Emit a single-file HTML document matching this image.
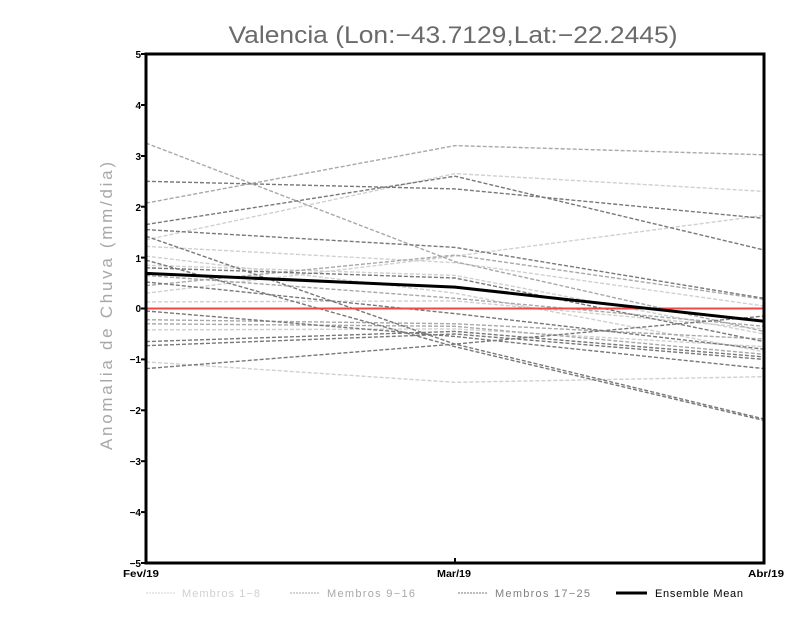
<!DOCTYPE html>
<html><head><meta charset="utf-8"><style>
html,body{margin:0;padding:0;background:#fff;}
svg{display:block;}
text{font-family:"Liberation Sans",sans-serif;}
</style></head><body>
<svg width="800" height="618" viewBox="0 0 800 618" xmlns="http://www.w3.org/2000/svg">
<rect width="800" height="618" fill="#fff"/>
<text x="453" y="43" font-size="24" fill="#6a6a6a" text-anchor="middle" textLength="449" lengthAdjust="spacingAndGlyphs">Valencia (Lon:−43.7129,Lat:−22.2445)</text>
<text transform="translate(112,306) rotate(-90)" font-size="17" fill="#a8a8a8" text-anchor="middle" textLength="288" lengthAdjust="spacing">Anomalia de Chuva (mm/dia)</text>

<g fill="none" stroke-width="1.4" stroke-dasharray="4,2">
<g stroke="#d0d0d0">
<polyline points="146,239.8 455,173.6 764,191.4"/>
<polyline points="146,293.2 455,256.1 764,215.4"/>
<polyline points="146,361.9 455,382.3 764,376.7"/>
<polyline points="146,329.9 455,328.9 764,346.7"/>
<polyline points="146,301.9 455,300.9 764,328.9"/>
<polyline points="146,265.2 455,275.4 764,334.0"/>
<polyline points="146,256.1 455,293.2 764,351.8"/>
<polyline points="146,246.4 455,262.7 764,306.0"/>
</g>
<g stroke="#a8a8a8">
<polyline points="146,203.1 455,145.6 764,154.8"/>
<polyline points="146,143.1 455,261.7 764,331.4"/>
<polyline points="146,319.7 455,323.8 764,339.0"/>
<polyline points="146,275.4 455,298.3 764,326.3"/>
<polyline points="146,285.6 455,255.1 764,299.3"/>
<polyline points="146,323.8 455,326.3 764,354.3"/>
</g>
<g stroke="#787878">
<polyline points="146,224.5 455,176.2 764,250.0"/>
<polyline points="146,181.3 455,188.9 764,218.4"/>
<polyline points="146,229.6 455,247.4 764,298.3"/>
<polyline points="146,236.2 455,344.1 764,419.0"/>
<polyline points="146,260.1 455,346.7 764,420.5"/>
<polyline points="146,368.6 455,344.1 764,316.1"/>
<polyline points="146,341.6 455,331.4 764,356.9"/>
<polyline points="146,345.7 455,334.0 764,359.4"/>
<polyline points="146,311.0 455,336.5 764,368.6"/>
<polyline points="146,282.0 455,313.6 764,349.2"/>
<polyline points="146,267.8 455,278.0 764,341.6"/>
</g>
</g>
<line x1="146" y1="308.5" x2="764" y2="308.5" stroke="#f04848" stroke-width="2"/>
<polyline points="146,273.4 455,287.1 764,321.2" fill="none" stroke="#000" stroke-width="3"/>

<rect x="146" y="54" width="618" height="509" fill="none" stroke="#000" stroke-width="3"/>
<g stroke="#000" stroke-width="2">
<line x1="141" y1="54" x2="146" y2="54"/>
<line x1="141" y1="105" x2="146" y2="105"/>
<line x1="141" y1="156" x2="146" y2="156"/>
<line x1="141" y1="206.7" x2="146" y2="206.7"/>
<line x1="141" y1="257.6" x2="146" y2="257.6"/>
<line x1="141" y1="308.5" x2="146" y2="308.5"/>
<line x1="141" y1="359.4" x2="146" y2="359.4"/>
<line x1="141" y1="410.3" x2="146" y2="410.3"/>
<line x1="141" y1="461.2" x2="146" y2="461.2"/>
<line x1="141" y1="512.1" x2="146" y2="512.1"/>
<line x1="141" y1="563" x2="146" y2="563"/>
<line x1="455" y1="558" x2="455" y2="563"/>
</g>
<g font-size="10" font-weight="bold" fill="#000" text-anchor="end">
<text x="141" y="58">5</text>
<text x="141" y="109">4</text>
<text x="141" y="160">3</text>
<text x="141" y="211">2</text>
<text x="141" y="262">1</text>
<text x="141" y="312">0</text>
<text x="141" y="363">−1</text>
<text x="141" y="414">−2</text>
<text x="141" y="465">−3</text>
<text x="141" y="516">−4</text>
<text x="141" y="567">−5</text>
</g>
<g font-size="10" font-weight="bold" fill="#000" text-anchor="middle">
<text x="141" y="577" textLength="36" lengthAdjust="spacingAndGlyphs">Fev/19</text>
<text x="454" y="577" textLength="34" lengthAdjust="spacingAndGlyphs">Mar/19</text>
<text x="766" y="577" textLength="36" lengthAdjust="spacingAndGlyphs">Abr/19</text>
</g>
<g font-size="11">
<line x1="146" y1="593" x2="176" y2="593" stroke="#d0d0d0" stroke-width="1" stroke-dasharray="2,1"/>
<text x="182" y="597" fill="#d0d0d0" textLength="78" lengthAdjust="spacing">Membros 1−8</text>
<line x1="290" y1="593" x2="320" y2="593" stroke="#a8a8a8" stroke-width="1" stroke-dasharray="2,1"/>
<text x="327" y="597" fill="#a8a8a8" textLength="88" lengthAdjust="spacing">Membros 9−16</text>
<line x1="458" y1="593" x2="487" y2="593" stroke="#787878" stroke-width="1" stroke-dasharray="2,1"/>
<text x="495" y="597" fill="#808080" textLength="95" lengthAdjust="spacing">Membros 17−25</text>
<line x1="616" y1="593" x2="647" y2="593" stroke="#000" stroke-width="3"/>
<text x="655" y="597" fill="#000" textLength="88" lengthAdjust="spacing">Ensemble Mean</text>
</g>
</svg>
</body></html>
